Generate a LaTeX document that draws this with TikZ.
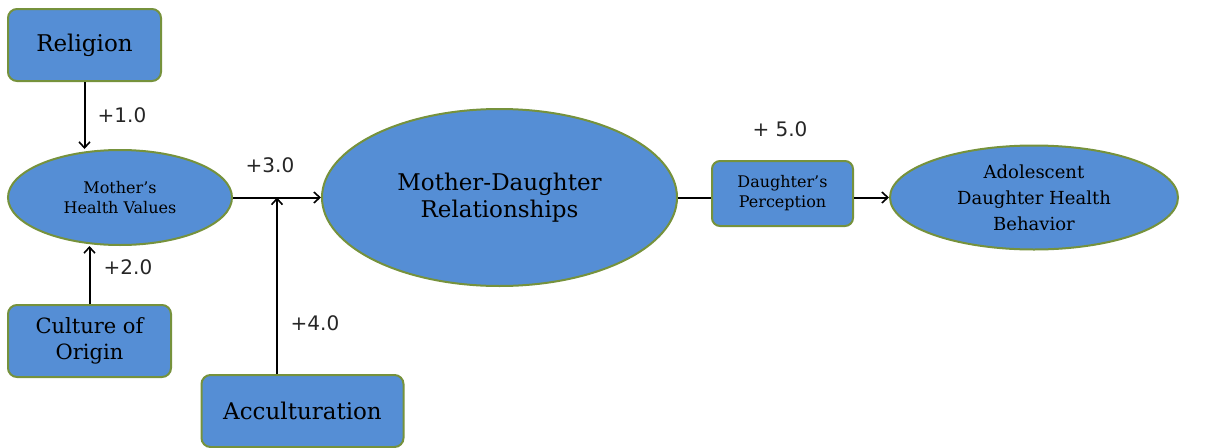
\documentclass[tikz,border=0pt]{standalone}
\usepackage{fontspec}
\setmainfont{DejaVu Serif}
\newfontfamily\numfont{DejaVu Sans}
\usetikzlibrary{shapes.geometric,arrows.meta}
\definecolor{boxfill}{RGB}{85,142,213}
\definecolor{boxline}{RGB}{118,146,60}
\tikzset{
  x=1pt,y=-1pt,
  rbox/.style={draw=boxline,fill=boxfill,line width=2pt,rounded corners=9pt,align=center,inner sep=0pt},
  oval/.style={ellipse,draw=boxline,fill=boxfill,line width=2pt,align=center,inner sep=0pt},
  conn/.style={draw=black,line width=2pt},
  arr/.style={conn,-{Straight Barb[length=6pt,width=11pt,line width=1.6pt]}},
  num/.style={font=\numfont\fontsize{20}{24}\selectfont,text=black!85}
}
\begin{document}
\begin{tikzpicture}
\useasboundingbox (0,0) rectangle (1225,447);
\node[rbox,minimum width=153pt,minimum height=72pt,font=\fontsize{23}{27}\selectfont] (rel) at (84.5,45) {Religion};
\node[oval,minimum width=224pt,minimum height=95pt,font=\fontsize{16}{20}\selectfont] (mhv) at (120,197.5) {Mother's\\Health Values};
\node[rbox,minimum width=163pt,minimum height=72pt,font=\fontsize{21}{26}\selectfont] (coo) at (89.5,341) {Culture of\\Origin};
\node[rbox,minimum width=202pt,minimum height=72pt,font=\fontsize{23}{27}\selectfont] (acc) at (302.5,411) {Acculturation};
\node[oval,minimum width=355pt,minimum height=177pt,font=\fontsize{23}{27}\selectfont] (mdr) at (499.5,197.5) {Mother-Daughter\\Relationships};
\node[rbox,minimum width=141pt,minimum height=65pt,rounded corners=8pt,font=\fontsize{16}{20}\selectfont] (dp) at (782.5,193.5) {Daughter's\\Perception};
\node[oval,minimum width=288pt,minimum height=104pt,font=\fontsize{18}{26}\selectfont] (adh) at (1034,197.5) {Adolescent\\Daughter Health\\Behavior};
\coordinate (jn) at (277,197.5);
\draw[arr] (rel.south) -- (rel.south |- mhv.north);
\draw[arr] (coo.north) -- (coo.north |- mhv.south);
\draw[arr] (mhv.east) -- (mdr.west);
\draw[arr] (acc.north -| jn) -- (jn);
\draw[conn] (mdr.east) -- (dp.west |- mdr.east);
\draw[arr] (dp.east |- adh.west) -- (adh.west);
\node[num] (l1) at (122,115) {+1.0};
\node[num] (l2) at (128,267) {+2.0};
\node[num] (l3) at (270,165) {+3.0};
\node[num] (l4) at (315,323) {+4.0};
\node[num] (l5) at (780,129) {+ 5.0};
\end{tikzpicture}
\end{document}
